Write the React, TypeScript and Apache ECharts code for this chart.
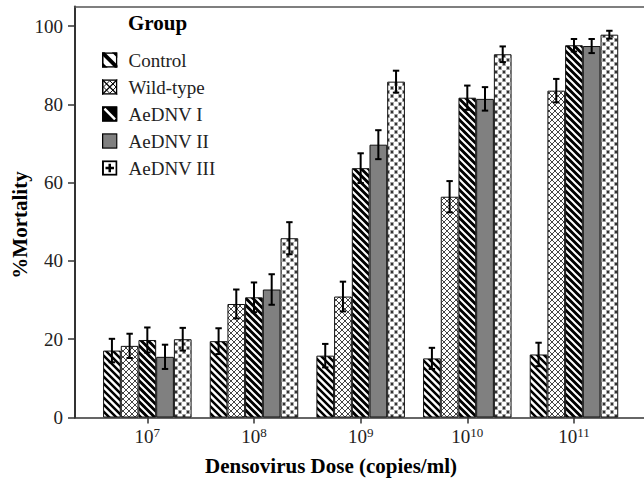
import React, { useEffect, useRef } from "react";
import * as echarts from "echarts";

// ---------- data ----------
const doseExponents = ["7", "8", "9", "10", "11"];
const categories = doseExponents.map((e) => "10^" + e);
const seriesNames = ["Control", "Wild-type", "AeDNV I", "AeDNV II", "AeDNV III"];
const control = [17.1, 19.5, 15.8, 15.1, 16.1];
const wildType = [18.3, 29.0, 30.9, 56.4, 83.5];
const aednv1 = [19.8, 30.7, 63.7, 81.7, 95.1];
const aednv2 = [15.5, 32.7, 69.7, 81.4, 94.9];
const aednv3 = [20.0, 45.8, 85.8, 92.8, 97.8];
const controlErr = [3.0, 3.3, 3.0, 2.7, 3.0];
const wildTypeErr = [3.1, 3.7, 3.8, 4.0, 3.0];
const aednv1Err = [3.2, 3.8, 3.8, 3.1, 1.6];
const aednv2Err = [3.1, 3.9, 3.7, 3.0, 1.8];
const aednv3Err = [2.9, 4.1, 2.8, 2.0, 1.0];
const yTicks = [0, 20, 40, 60, 80, 100];

const FONT = "'Liberation Serif', 'Times New Roman', Times, serif";
const BAR_W = 17.7;

const svgUrl = (w: number, h: number, body: string) =>
  "data:image/svg+xml;charset=utf-8," +
  encodeURIComponent(
    `<svg xmlns="http://www.w3.org/2000/svg" width="${w}" height="${h}" viewBox="0 0 ${w} ${h}">${body}</svg>`
  );

const pat = (size: number, body: string) => ({
  image: svgUrl(size, size, body),
  imageWidth: size,
  imageHeight: size,
  repeat: "repeat",
});

const patterns: any[] = [
  pat(
    7,
    `<rect width="7" height="7" fill="#fff"/><path d="M-1,-1 L8,8 M-1,6 L1,8 M6,-1 L8,1" stroke="#000" stroke-width="2.5" fill="none"/>`
  ),
  pat(
    6,
    `<rect width="6" height="6" fill="#fff"/><path d="M-1,-1 L7,7 M7,-1 L-1,7" stroke="#222" stroke-width="0.85" fill="none"/>`
  ),
  pat(
    7,
    `<rect width="7" height="7" fill="#000"/><path d="M-1,-1 L8,8 M-1,6 L1,8 M6,-1 L8,1" stroke="#fff" stroke-width="2" fill="none"/>`
  ),
  "#808080",
  pat(
    8,
    `<rect width="8" height="8" fill="#fff"/><path d="M-1,-1 L9,9 M9,-1 L-1,9" stroke="#a0a0a0" stroke-width="0.8" fill="none"/>` +
      `<path d="M2.3,4 H5.7 M4,2.3 V5.7 M-1.7,0 H1.7 M0,-1.7 V1.7 M6.3,0 H9.7 M8,-1.7 V1.7 M-1.7,8 H1.7 M0,6.3 V9.7 M6.3,8 H9.7 M8,6.3 V9.7" stroke="#111" stroke-width="1.2" fill="none"/>`
  ),
];

const border = (sw: number) =>
  `<rect x="${sw / 2}" y="${sw / 2}" width="${16 - sw}" height="${16 - sw}" fill="none" stroke="#000" stroke-width="${sw}"/>`;

const legendIcons = [
  svgUrl(
    16,
    16,
    `<rect width="16" height="16" fill="#fff"/><path d="M0,0 L16,16" stroke="#000" stroke-width="4"/><path d="M10,0 L16,0 L16,6 Z M0,10 L0,16 L6,16 Z" fill="#000"/>` +
      border(1.6)
  ),
  svgUrl(
    16,
    16,
    `<rect width="16" height="16" fill="#fff"/><path d="M0,0 L16,16 M16,0 L0,16" stroke="#000" stroke-width="1.3"/><path d="M8,1.5 L14.5,8 L8,14.5 L1.5,8 Z" stroke="#000" stroke-width="1" fill="none"/>` +
      border(1.6)
  ),
  svgUrl(
    16,
    16,
    `<rect width="16" height="16" fill="#000"/><path d="M2.5,2.5 L13.5,13.5" stroke="#fff" stroke-width="2.6"/>` + border(1.6)
  ),
  svgUrl(16, 16, `<rect width="16" height="16" fill="#808080"/>` + border(1.3)),
  svgUrl(
    16,
    16,
    `<rect width="16" height="16" fill="#fff"/><path d="M8,3.6 V12.4 M3.6,8 H12.4" stroke="#000" stroke-width="2.6"/>` + border(2)
  ),
];

const values = [control, wildType, aednv1, aednv2, aednv3];
const errors = [controlErr, wildTypeErr, aednv1Err, aednv2Err, aednv3Err];

export default function App() {
  const ref = useRef<HTMLDivElement>(null);

  useEffect(() => {
    if (!ref.current) return;
    const chart = echarts.init(ref.current, undefined, { renderer: "svg" });

    const errData: number[][] = [];
    values.forEach((vals, s) => {
      vals.forEach((v, c) => {
        errData.push([c, v - errors[s][c], v + errors[s][c], s]);
      });
    });

    const option: any = {
      animation: false,
      textStyle: { fontFamily: FONT },
      grid: [
        { left: 75, right: 0, top: 6.5, bottom: 60.5 },
        { left: 94, width: 533.3, top: 6.5, bottom: 60.5 },
      ],
      xAxis: [
        {
          type: "value",
          gridIndex: 0,
          min: 0,
          max: 1,
          position: "bottom",
          axisLine: { show: true, lineStyle: { color: "#333", width: 1.6 } },
          axisTick: { show: false },
          axisLabel: { show: false },
          splitLine: { show: false },
        },
        {
          type: "value",
          gridIndex: 0,
          min: 0,
          max: 1,
          position: "top",
          axisLine: { show: true, lineStyle: { color: "#555", width: 1.6 } },
          axisTick: { show: false },
          axisLabel: { show: false },
          splitLine: { show: false },
        },
        {
          type: "category",
          gridIndex: 1,
          data: categories,
          axisLine: { show: false },
          axisTick: { show: true, alignWithLabel: true, length: 6, lineStyle: { color: "#333", width: 1.5 } },
          axisLabel: {
            interval: 0,
            margin: 8,
            fontSize: 19,
            fontFamily: FONT,
            color: "#222",
            lineHeight: 22,
            formatter: (v: string) => {
              const parts = v.split("^");
              return `${parts[0]}{sup|${parts[1]}}`;
            },
            rich: {
              sup: { fontSize: 13, fontFamily: FONT, color: "#222", lineHeight: 14, verticalAlign: "top" },
            },
          },
          splitLine: { show: false },
        },
      ],
      yAxis: [
        {
          type: "value",
          gridIndex: 0,
          min: 0,
          max: 105,
          interval: 20,
          axisLine: { show: true, lineStyle: { color: "#333", width: 2 } },
          axisTick: { show: true, length: 7, customValues: yTicks, lineStyle: { color: "#333", width: 1.5 } },
          axisLabel: {
            customValues: yTicks,
            fontSize: 19,
            color: "#222",
            fontFamily: FONT,
            margin: 12,
          },
          splitLine: { show: false },
        },
        {
          type: "value",
          gridIndex: 1,
          min: 0,
          max: 105,
          interval: 20,
          show: false,
          splitLine: { show: false },
        },
      ],
      legend: {
        orient: "vertical",
        left: 102,
        top: 50.5,
        padding: 0,
        itemWidth: 15.5,
        itemHeight: 15.5,
        itemGap: 8,
        selectedMode: false,
        data: seriesNames.map((n, i) => ({ name: n, icon: "image://" + legendIcons[i] })),
        textStyle: { fontSize: 19, color: "#222", fontFamily: FONT, lineHeight: 18, padding: [0, 0, 0, 6] },
      },
      graphic: [
        {
          type: "text",
          x: 157.5,
          y: 23,
          style: {
            text: "Group",
            font: `bold 21px ${FONT}`,
            fill: "#000",
            align: "center",
            verticalAlign: "middle",
          },
        },
        {
          type: "text",
          x: 20,
          y: 225,
          rotation: Math.PI / 2,
          style: {
            text: "%Mortality",
            font: `bold 21px ${FONT}`,
            fill: "#000",
            align: "center",
            verticalAlign: "middle",
          },
        },
        {
          type: "text",
          x: 331,
          y: 466,
          style: {
            text: "Densovirus Dose (copies/ml)",
            font: `bold 21px ${FONT}`,
            fill: "#000",
            align: "center",
            verticalAlign: "middle",
          },
        },
      ],
      series: [
        ...seriesNames.map((name, i) => ({
          name,
          type: "bar",
          xAxisIndex: 2,
          yAxisIndex: 1,
          barWidth: BAR_W,
          barGap: "0%",
          data: values[i],
          itemStyle: { color: patterns[i], borderColor: "#111", borderWidth: 1 },
          emphasis: { disabled: true },
        })),
        {
          type: "custom",
          xAxisIndex: 2,
          yAxisIndex: 1,
          z: 10,
          silent: true,
          data: errData,
          renderItem: (params: any, api: any) => {
            const cat = api.value(0);
            const lo = api.value(1);
            const hi = api.value(2);
            const s = api.value(3);
            const top = api.coord([cat, hi]);
            const bot = api.coord([cat, lo]);
            const x = top[0] + (s - 2) * BAR_W;
            const st = { stroke: "#000", lineWidth: 2 };
            return {
              type: "group",
              children: [
                { type: "line", shape: { x1: x, y1: top[1], x2: x, y2: bot[1] }, style: st },
                { type: "line", shape: { x1: x - 3.2, y1: top[1], x2: x + 3.2, y2: top[1] }, style: st },
                { type: "line", shape: { x1: x - 3.2, y1: bot[1], x2: x + 3.2, y2: bot[1] }, style: st },
              ],
            };
          },
        },
      ],
    };

    chart.setOption(option);
    return () => chart.dispose();
  }, []);

  return (
    <div
      ref={ref}
      style={{ position: "fixed", left: 0, top: 0, width: 644, height: 478, background: "#fff" }}
    />
  );
}
